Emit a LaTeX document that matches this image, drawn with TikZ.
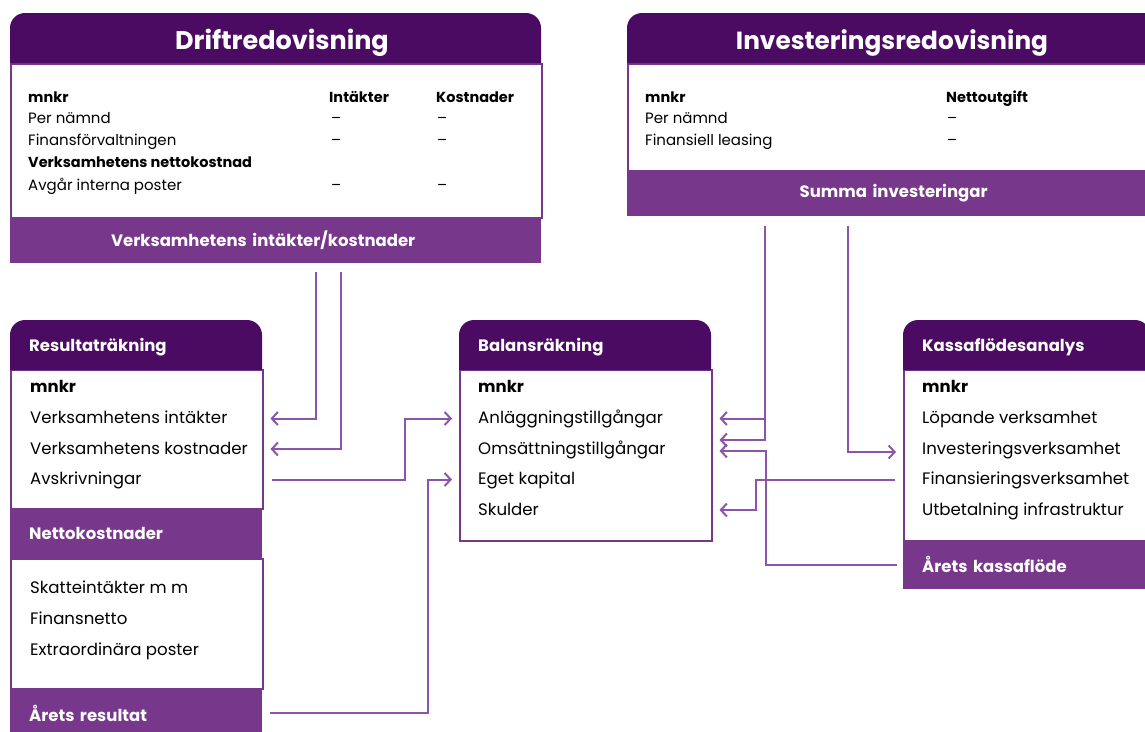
\documentclass[tikz,border=0pt]{standalone}
\usepackage{fontspec}
\setmainfont{Poppins}
\usetikzlibrary{arrows.meta}
\definecolor{plum}{HTML}{4B0B63}
\definecolor{lilac}{HTML}{77378B}
\definecolor{wire}{HTML}{8A55AA}
\tikzset{
  body/.style={draw=lilac,line width=1.5pt,fill=white,anchor=north west,inner sep=0pt,minimum width=#1},
  cap/.style={fill=lilac,text=white,font=\bfseries\fontsize{16.5}{16.5}\selectfont,anchor=north west,inner xsep=19pt,inner ysep=0pt,
    minimum width=#1,text width=#1-38pt},
  title/.style={text=white,font=\bfseries\fontsize{16.5}{16.5}\selectfont,anchor=west,inner sep=0pt},
  big/.style={text=white,font=\bfseries\fontsize{25.5}{25.5}\selectfont,inner sep=0pt},
  row/.style={anchor=west,inner sep=0pt,text height=1.05em,text depth=0em,font=\fontsize{16.6}{16.6}\selectfont},
  small/.style={row,font=\fontsize{15}{15}\selectfont},
  smallb/.style={row,font=\bfseries\fontsize{14.5}{14.5}\selectfont},
  link/.style={draw=wire,line width=2pt,-{Straight Barb[length=6pt,width=13pt]},shorten >=7pt},
}
\begin{document}
\begin{tikzpicture}[x=1pt,y=-1pt]
\useasboundingbox (0,0) rectangle (1145,731);
%bodies
\node[body=531,minimum height=154] (db) at (10,63) {};
\node[body=533,minimum height=107] (ib) at (627,63) {};
\node[body=252,minimum height=139] (rb1) at (10,369) {};
\node[body=252,minimum height=130] (rb2) at (10,558) {};
\node[body=252,minimum height=171] (bb) at (459,369) {};
\node[body=247,minimum height=171] (kb) at (903,369) {};
%headers
\foreach \x/\y/\w in {10/13/531,627/13/533,10/320/252,459/320/252,903/320/247}
  {\fill[plum] (\x,\y+50) [rounded corners=15pt] -- (\x,\y) -- (\x+\w,\y) [sharp corners] -- (\x+\w,\y+50) -- cycle;}
\node[big] (dt) at (282,42.5) {Driftredovisning};
\node[big,font=\bfseries\fontsize{24.8}{24.8}\selectfont] (it) at (892,42.5) {Investeringsredovisning};
\node[title] (rt) at (29,347) {Resultaträkning};
\node[title] (bt) at (478,347) {Balansräkning};
\node[title] (kt) at (922,347) {Kassaflödesanalys};
%footers
\node[cap=531,minimum height=46,align=center] (df) at (10,217) {Verksamhetens intäkter/kostnader\hphantom{\kern25pt}};
\node[cap=533,minimum height=46,align=center] (if) at (627,170) {Summa investeringar};
\node[cap=252,minimum height=50,align=left] (rf1) at (10,508) {Nettokostnader};
\node[cap=252,minimum height=50,align=left] (rf2) at (10,688) {Årets resultat};
\node[cap=247,minimum height=49,align=left] (kf) at (903,540) {Årets kassaflöde};
%driftredovisning rows
\node[smallb] (d0) at (28,97) {mnkr};
\node[smallb] (dh1) at (329,97) {Intäkter};
\node[smallb] (dh2) at (436,97) {Kostnader};
\node[smallb] (d4) at (28,162) {Verksamhetens nettokostnad};
\foreach \t/\y in {Per nämnd/118,Finansförvaltningen/140,Avgår interna poster/185}
  {\node[small] (d\y) at (28,\y) {\t};
   \node[small] (da\y) at (331,\y) {–};
   \node[small] (dk\y) at (437,\y) {–};}
%investeringsredovisning rows
\node[smallb] (i0) at (645,97) {mnkr};
\node[smallb] (ih) at (946,97) {Nettoutgift};
\foreach \t/\y in {Per nämnd/118,Finansiell leasing/140}
  {\node[small] (i\y) at (645,\y) {\t};
   \node[small] (in\y) at (947,\y) {–};}
%resultatrakning rows
\node[row,font=\bfseries\fontsize{16.5}{16.5}\selectfont] (rv0) at (30,387) {mnkr};
\foreach \t [count=\i] in {Verksamhetens intäkter,Verksamhetens kostnader,Avskrivningar}
  {\node[row] (rv\i) at (30,388+30.5*\i) {\t};}
\foreach \t [count=\i] in {Skatteintäkter m m,Finansnetto,Extraordinära poster}
  {\node[row] (rs\i) at (30,557+31*\i) {\t};}
%balansrakning rows
\node[row,font=\bfseries\fontsize{16.5}{16.5}\selectfont] (bv0) at (478,387) {mnkr};
\foreach \t [count=\i] in {Anläggningstillgångar,Omsättningstillgångar,Eget kapital,Skulder}
  {\node[row] (bv\i) at (478,388+30.5*\i) {\t};}
%kassaflodesanalys rows
\node[row,font=\bfseries\fontsize{16.5}{16.5}\selectfont] (kv0) at (922,387) {mnkr};
\foreach \t [count=\i] in {Löpande verksamhet,Investeringsverksamhet,Finansieringsverksamhet,Utbetalning infrastruktur}
  {\node[row] (kv\i) at (922,388+30.5*\i) {\t};}
%links
\coordinate (d1) at ([xshift=40.5pt,yshift=-9pt]df.south);
\coordinate (d2) at ([xshift=65.5pt,yshift=-9pt]df.south);
\coordinate (i1) at ([xshift=-128.5pt,yshift=-10pt]if.south);
\coordinate (i2) at ([xshift=-45.5pt,yshift=-10pt]if.south);
\draw[link] (d1) |- (rv1 -| rb1.east);
\draw[link] (d2) |- (rv2 -| rb1.east);
\draw[link,shorten <=8pt] (rv3 -| rb1.east) -- ++(141,0) |- (bv1 -| bb.west);
\draw[link,shorten <=8pt] (rf2.east) -- ++(166,0) |- (bv3 -| bb.west);
\draw[link] (i1) |- ([yshift=9pt]bv2 -| bb.east);
\draw[link] (i1 |- bv1) -- (bv1 -| bb.east);
\draw[link] (i2) |- ([yshift=-3pt]kv2 -| kb.west);
\draw[link,shorten <=8pt] (kv3 -| kb.west) -- ++(-147,0) |- (bv4 -| bb.east);
\draw[link,shorten <=6pt] (kf.west) -- ++(-137,0) |- ([yshift=-2pt]bv2 -| bb.east);
\end{tikzpicture}
\end{document}
